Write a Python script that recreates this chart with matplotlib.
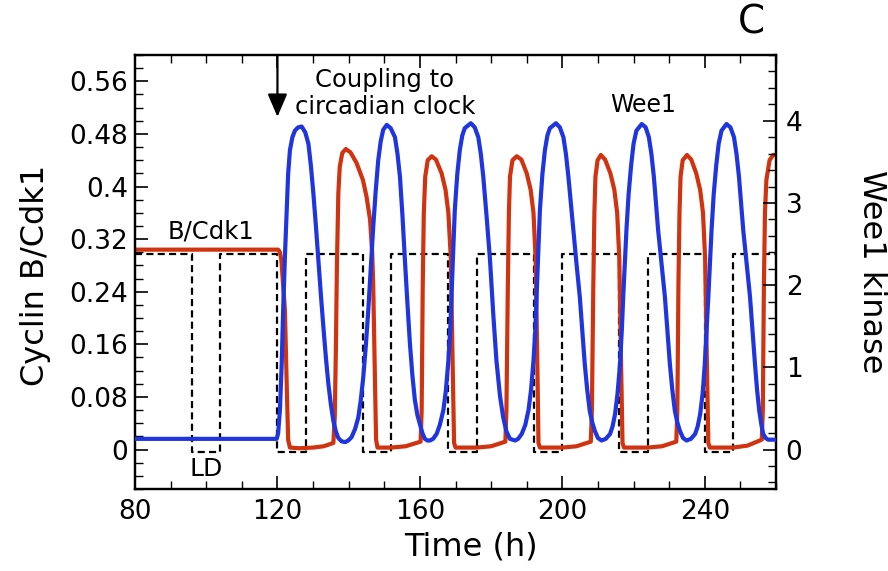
import matplotlib
matplotlib.use("Agg")
import matplotlib.pyplot as plt
from matplotlib.ticker import MultipleLocator, FixedLocator

plt.rcParams['font.family'] = ['DejaVu Sans']

# ---- data ----
# Cyclin B/Cdk1 (left axis)
cdk_t = [80, 120.2, 120.7, 121.1, 121.6, 122.1, 122.6, 123.0, 123.5, 126, 130, 133, 135.7,
         136.1, 136.4, 136.7, 137.1, 137.5, 138.2, 139.2, 140.5, 142.2, 144.0, 145.0, 146.0,
         146.6, 146.9, 147.3, 147.7, 148.1,
         152, 156, 160.2, 160.5, 160.8, 161.1, 161.5, 162.2, 163.3, 164.5, 166.1, 167.2,
         168.0, 168.7, 169.1, 169.6, 170.0,
         176, 180, 184.0, 184.3, 184.7, 185.0, 185.3, 186.0, 187.2, 188.5, 190.0, 191.1,
         191.9, 192.5, 192.9, 193.3, 193.7,
         200, 204, 208.0, 208.3, 208.7, 209.0, 209.3, 209.9, 210.8, 212.0, 213.5, 214.6,
         215.4, 216.0, 216.4, 216.9, 217.3,
         224, 228, 232.0, 232.3, 232.6, 232.9, 233.2, 233.8, 235.0, 236.2, 237.6, 238.7,
         239.5, 240.1, 240.5, 241.0, 241.4,
         248, 252, 256.0, 256.3, 256.6, 256.9, 257.3, 258.2, 259.2, 260]
cdk_v = [0.304, 0.304, 0.300, 0.288, 0.25, 0.212, 0.10, 0.015, 0.003, 0.002, 0.003, 0.005, 0.010,
         0.05, 0.15, 0.28, 0.39, 0.43, 0.451, 0.457, 0.452, 0.436, 0.41, 0.385, 0.35,
         0.30, 0.25, 0.13, 0.015, 0.003,
         0.003, 0.005, 0.012, 0.06, 0.25, 0.36, 0.415, 0.44, 0.446, 0.441, 0.42, 0.395,
         0.36, 0.29, 0.16, 0.01, 0.003,
         0.003, 0.005, 0.012, 0.06, 0.25, 0.36, 0.415, 0.44, 0.446, 0.441, 0.42, 0.395,
         0.36, 0.29, 0.16, 0.01, 0.003,
         0.003, 0.005, 0.012, 0.06, 0.25, 0.36, 0.415, 0.44, 0.448, 0.441, 0.42, 0.395,
         0.36, 0.29, 0.16, 0.01, 0.003,
         0.003, 0.005, 0.012, 0.06, 0.25, 0.36, 0.415, 0.44, 0.448, 0.441, 0.42, 0.395,
         0.36, 0.29, 0.16, 0.01, 0.003,
         0.003, 0.006, 0.015, 0.06, 0.25, 0.36, 0.41, 0.44, 0.448, 0.448]

# Wee1 kinase (right axis)
wee_t = [80, 119.8, 120.2, 120.7, 121.2, 121.6, 122.1, 122.6, 123.0, 123.5, 124.2, 124.9,
         125.8, 126.8, 127.8, 128.7, 129.4, 130.1, 130.8, 131.5, 132.2, 132.9, 133.6, 134.3,
         135.0, 135.7, 136.4, 137.1, 138.0, 139.0, 139.9, 140.8, 141.8, 142.7, 143.4, 144.1,
         144.8, 145.5, 146.2, 146.9, 147.6, 148.3, 149.0, 149.7, 150.7, 151.8, 153.0, 153.7,
         154.4, 155.1, 155.8, 156.5, 157.2, 157.9, 158.6, 159.3, 160.0, 160.7, 161.4, 162.1,
         162.8, 163.7, 164.7, 165.6, 166.6, 167.3, 168.0, 168.5, 168.9, 169.4, 169.8, 170.5,
         171.2, 171.9, 172.6, 174.3, 175.4, 176.4, 177.1, 177.8, 178.8, 179.7, 180.6, 181.5,
         182.5, 183.4, 184.3, 185.3, 186.7, 187.6, 188.6, 189.6, 190.5, 191.2, 191.9, 192.4,
         192.8, 193.3, 193.7, 194.4, 195.1, 195.8, 196.5, 198.2, 199.3, 200.3, 201.0, 201.7,
         202.4, 203.1, 204.0, 204.9, 205.6, 206.3, 207.0, 207.7, 208.4, 209.1, 210.0, 211.0,
         212.2, 213.4, 214.1, 214.8, 215.5, 216.2, 216.7, 217.1, 217.6, 218.0, 218.6, 219.3,
         220.0, 220.8, 222.3, 223.4, 224.3, 225.0, 225.7, 226.3, 226.9, 227.9, 228.8, 229.5,
         230.2, 230.9, 231.6, 232.3, 233.0, 233.9, 234.9, 236.1, 237.3, 238.0, 238.7, 239.4,
         240.0, 240.5, 241.0, 241.5, 241.9, 242.5, 243.2, 243.9, 244.7, 246.1, 247.2, 248.2,
         248.9, 249.6, 250.2, 250.8, 251.8, 252.7, 253.4, 254.1, 254.7, 255.3, 255.9, 256.4,
         257.1, 257.8, 259.7, 260]
wee_v = [0.13, 0.13, 0.2, 0.48, 1.05, 1.69, 2.35, 2.91, 3.35, 3.64, 3.80, 3.88,
         3.92, 3.93, 3.86, 3.72, 3.45, 3.11, 2.72, 2.30, 1.88, 1.49, 1.12, 0.80,
         0.55, 0.35, 0.22, 0.14, 0.10, 0.09, 0.11, 0.15, 0.25, 0.39, 0.6, 0.88,
         1.25, 1.69, 2.2, 2.71, 3.15, 3.52, 3.75, 3.89, 3.95, 3.91, 3.80, 3.6,
         3.32, 2.85, 2.30, 1.78, 1.29, 0.9, 0.60, 0.42, 0.31, 0.2, 0.13, 0.11,
         0.11, 0.13, 0.19, 0.3, 0.48, 0.72, 1.08, 1.45, 1.90, 2.45, 2.91, 3.35,
         3.64, 3.82, 3.91, 3.97, 3.92, 3.80, 3.6, 3.32, 2.8, 2.30, 1.65, 1.08,
         0.65, 0.39, 0.22, 0.13, 0.11, 0.13, 0.19, 0.3, 0.48, 0.72, 1.08, 1.45,
         1.90, 2.45, 2.91, 3.35, 3.64, 3.82, 3.91, 3.97, 3.92, 3.80, 3.6, 3.32,
         3.0, 2.67, 2.25, 1.86, 1.45, 1.04, 0.72, 0.47, 0.33, 0.23, 0.14, 0.11,
         0.13, 0.19, 0.28, 0.43, 0.68, 1.04, 1.45, 1.86, 2.3, 2.67, 3.1, 3.45,
         3.72, 3.88, 3.96, 3.92, 3.80, 3.6, 3.32, 3.0, 2.67, 2.25, 1.86, 1.45,
         1.04, 0.72, 0.47, 0.33, 0.23, 0.14, 0.11, 0.13, 0.19, 0.28, 0.43, 0.68,
         1.04, 1.45, 1.86, 2.3, 2.67, 3.1, 3.45, 3.72, 3.88, 3.96, 3.92, 3.80,
         3.6, 3.32, 3.0, 2.67, 2.25, 1.86, 1.45, 1.04, 0.72, 0.47, 0.3, 0.19,
         0.14, 0.12, 0.12, 0.12]

# Light/dark schedule (dashed square wave, plotted on the left scale)
ld_t = [80, 96, 104, 120, 128, 144, 152, 168, 176, 192, 200, 216, 224, 240, 248, 260]
ld_v = [0.298, -0.003, 0.298, -0.003, 0.298, -0.003, 0.298, -0.003, 0.298, -0.003,
        0.298, -0.003, 0.298, -0.003, 0.298, 0.298]

x_ticks = [80, 120, 160, 200, 240]
left_ticks = [0, 0.08, 0.16, 0.24, 0.32, 0.4, 0.48, 0.56]
left_labels = ['0', '0.08', '0.16', '0.24', '0.32', '0.4', '0.48', '0.56']
right_ticks = [0, 1, 2, 3, 4]

RED = '#D0330F'
BLUE = '#1F35E0'

fig = plt.figure(figsize=(8.88, 5.71), dpi=100)
ax = fig.add_axes([135/888, 1 - 489/571, 641/888, 434/571])
ax2 = ax.twinx()

ax.plot(ld_t, ld_v, drawstyle='steps-post', color='black', lw=1.6,
        linestyle=(0, (3.2, 1.9)), zorder=1)
ax.plot(cdk_t, cdk_v, color=RED, lw=3.0, zorder=2, solid_joinstyle='round')
ax2.plot(wee_t, wee_v, color=BLUE, lw=3.0, zorder=3, solid_joinstyle='round')

ax.set_xlim(80, 260)
ax.set_ylim(-0.06, 0.60)
ax2.set_ylim(-0.48, 4.8)

ax.xaxis.set_major_locator(FixedLocator(x_ticks))
ax.xaxis.set_minor_locator(MultipleLocator(10))
ax.yaxis.set_major_locator(FixedLocator(left_ticks))
ax.set_yticklabels(left_labels)
ax.yaxis.set_minor_locator(MultipleLocator(0.02))
ax2.yaxis.set_major_locator(FixedLocator(right_ticks))
ax2.yaxis.set_minor_locator(MultipleLocator(0.2))

ax.tick_params(axis='both', which='major', direction='in', length=9.5, width=1.2,
               labelsize=19, top=True, right=False)
ax.tick_params(axis='both', which='minor', direction='in', length=5.5, width=1.0,
               top=True, right=False)
ax.tick_params(axis='y', which='major', pad=5)
ax.tick_params(axis='x', which='major', pad=7)
ax2.tick_params(axis='y', which='major', direction='in', length=9.5, width=1.2,
                labelsize=19, pad=7)
ax2.tick_params(axis='y', which='minor', direction='in', length=5.5, width=1.0)

for a in (ax, ax2):
    for s in a.spines.values():
        s.set_linewidth(1.6)

ax.set_xlabel('Time (h)', fontsize=23)
ax.xaxis.set_label_coords((470.8 - 135) / 641, (489 - 547) / 434)
ax.xaxis.label.set_va('center')
ax.set_ylabel('Cyclin B/Cdk1', fontsize=23)
ax.yaxis.set_label_coords((35 - 135) / 641, (489 - 275) / 434)
ax.yaxis.label.set_va('center')
ax2.set_ylabel('Wee1 kinase', fontsize=23, rotation=270)
ax2.yaxis.set_label_coords((871 - 135) / 641, (489 - 272) / 434)
ax2.yaxis.label.set_va('center')
ax2.yaxis.label.set_ha('center')

ax.text(101.3, 0.332, 'B/Cdk1', fontsize=17.5, ha='center', va='center')
ax.text(100.1, -0.030, 'LD', fontsize=18, ha='center', va='center')
ax.text(150.2, 0.542, 'Coupling to\ncircadian clock', fontsize=17.5, ha='center',
        va='center', linespacing=1.15)
ax.text(222.8, 0.524, 'Wee1', fontsize=17, ha='center', va='center')
ax.annotate('', xy=(120, 0.506), xytext=(120, 0.60),
            arrowprops=dict(arrowstyle='-|>,head_length=0.7,head_width=0.3',
                            color='black', lw=1.6, shrinkA=0, shrinkB=0,
                            mutation_scale=20))
fig.text(751 / 888, 1 - 22 / 571, 'C', fontsize=28, ha='center', va='center')

fig.savefig('out.png', dpi=100)
